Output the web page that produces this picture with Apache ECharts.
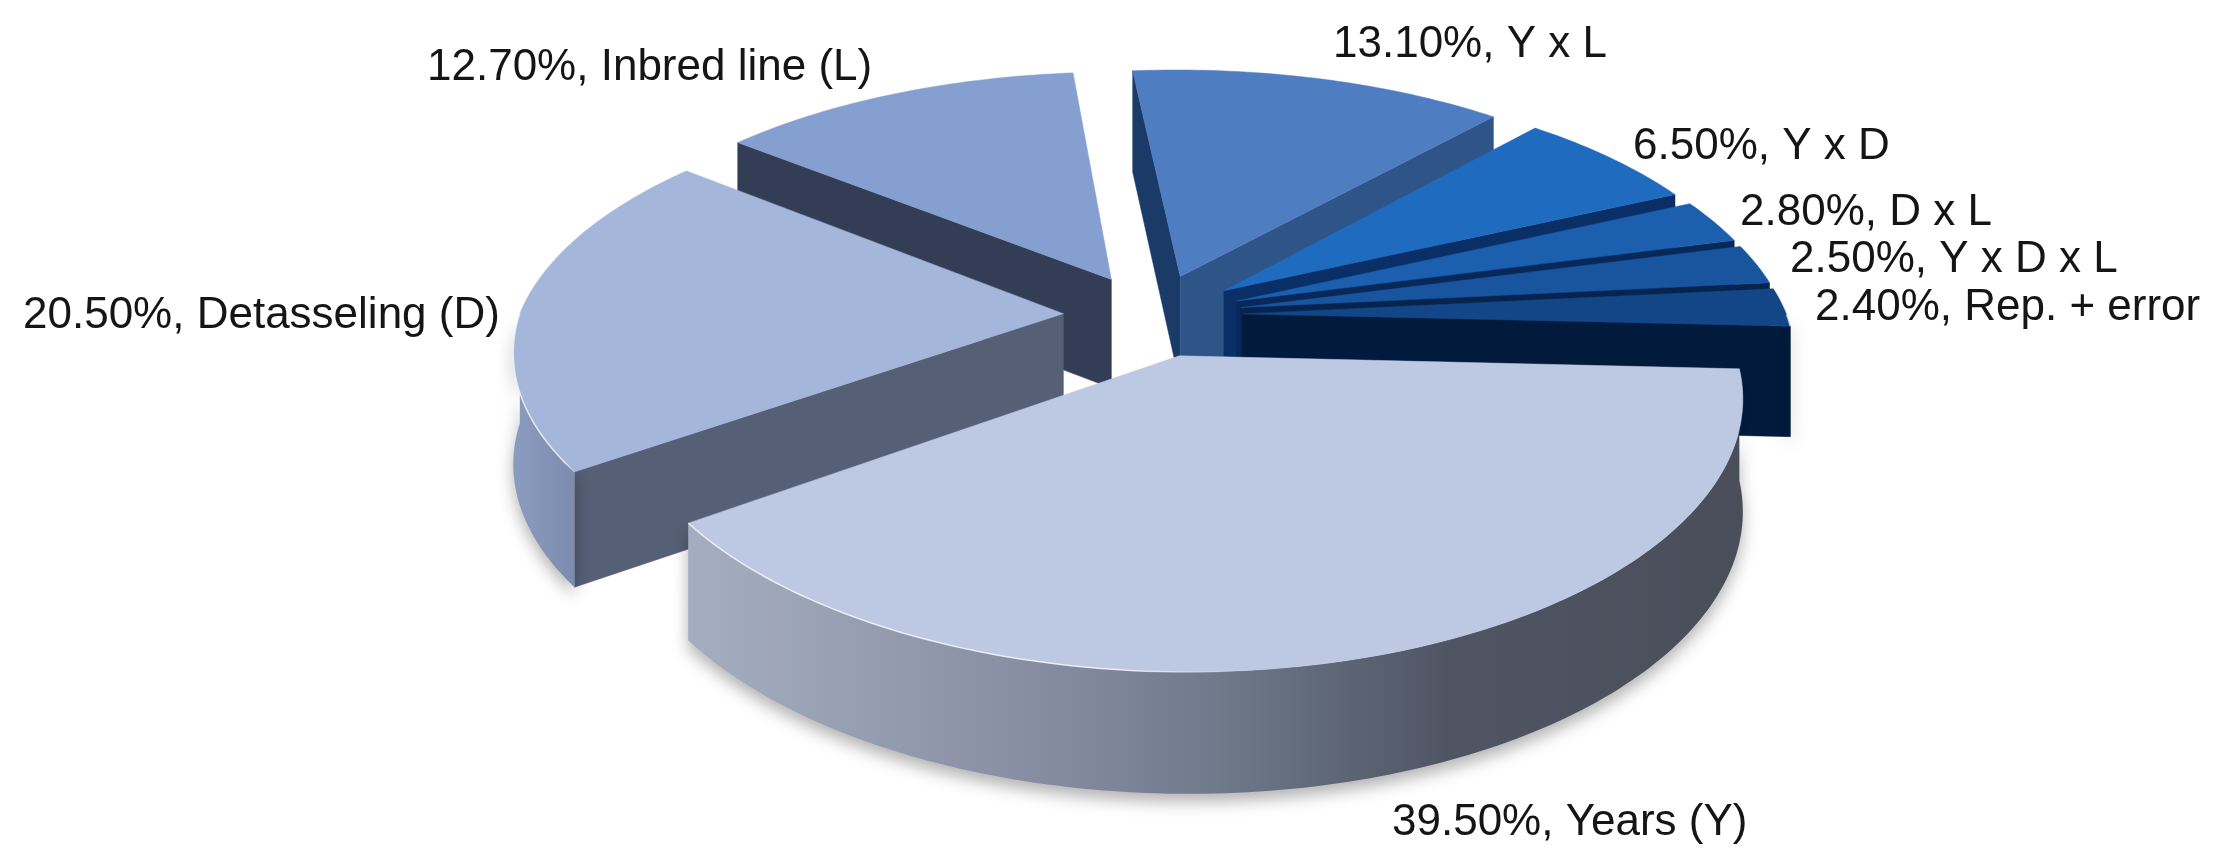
<!DOCTYPE html>
<html>
<head>
<meta charset="utf-8">
<title>Variance components</title>
<script src="https://cdn.jsdelivr.net/npm/echarts@6/dist/echarts.min.js"></script>
<style>
  html, body { margin: 0; padding: 0; background: #fff; }
  #main { width: 2215px; height: 859px; }
</style>
</head>
<body>
<div id="main"></div>
<script>
// chart data
const categories = ['Years (Y)', 'Detasseling (D)', 'Inbred line (L)', 'Y x L', 'Y x D', 'D x L', 'Y x D x L', 'Rep. + error'];
const shares = [39.5, 20.5, 12.7, 13.1, 6.5, 2.8, 2.5, 2.4];

// look of each slice
const topColors = ['#bdc9e2', '#a4b6da', '#859fd0', '#4e7dc2', '#1f6bbf', '#1b5fae', '#19549f', '#134687'];
const startWallColors = ['#000', '#555f75', '#333e56', '#1a3a68', '#0d3f80', '#0b3a75', '#0a356c', '#08305f'];
const endWallColors = ['#000', '#000', '#000', '#2f5487', '#0a2f66', '#08285a', '#07244f', '#021a3c'];
const outerStops = [
  [[0, '#a5aec0'], [0.35, '#858b9f'], [0.5, '#6f7a8b'], [0.72, '#4f5563'], [1, '#4a4e5b']],
  [[0, '#8c9cc0'], [1, '#7c8cae']],
  [[0, '#333e56'], [1, '#333e56']],
  [[0, '#2f5487'], [1, '#2f5487']],
  [[0, '#0d3f80'], [1, '#0d3f80']],
  [[0, '#0b3a75'], [1, '#0b3a75']],
  [[0, '#0a356c'], [1, '#0a356c']],
  [[0, '#021a3c'], [1, '#021a3c']]
];

// where the label text starts, same order as categories
const labelX = [1392, 23, 427, 1333, 1633, 1740, 1790, 1815];
const labelY = [823, 316, 68, 45, 147, 213, 260, 308];

// pie projection: tilted disc seen with a bit of perspective
const centerX = 1153, centerY = 315;
const radiusX = 544, radiusY = 251;
const perspective = 0.16;
const nearPerspectiveX = 0.14;
const nearShear = 0.01;
const explode = 0.165;
const depth = 110;
const startAngle = 2.8;

const total = shares.reduce((a, b) => a + b, 0);
const rad = d => d * Math.PI / 180;

function project(u, v, h) {
  const sy = 1 / (1 - perspective * v);
  const sx = 1 / (1 - (v < 0 ? perspective : nearPerspectiveX) * v);
  const shear = v > 0 ? nearShear * v : 0;
  return [centerX + radiusX * (u * sx + shear), centerY + radiusY * v * sy + h * Math.sqrt(sy)];
}

function renderSlice(params, api) {
  const i = params.dataIndex;
  let before = 0;
  for (let k = 0; k < i; k++) before += shares[k];
  const a1 = startAngle + before / total * 360;
  const a2 = a1 + api.value(0) / total * 360;
  const mid = rad((a1 + a2) / 2);
  const ox = explode * Math.cos(mid), oy = explode * Math.sin(mid);

  const rim = (deg, h) => project(ox + Math.cos(rad(deg)), oy + Math.sin(rad(deg)), h);
  const apex = h => project(ox, oy, h);
  const base = Math.round((Math.sin(mid) + 1) * 100) * 10;
  const children = [];

  const arc = [];
  for (let d = a1; d < a2; d += 1) arc.push(d);
  arc.push(a2);

  // cut walls, only those turned to the viewer
  const wall = (deg, color, z) => children.push({
    type: 'polygon',
    z2: base + z,
    shape: { points: [apex(0), rim(deg, 0), rim(deg, depth), apex(depth)] },
    style: { fill: color, stroke: color, lineWidth: 0.5 }
  });
  if (-Math.cos(rad(a1)) > 0) wall(a1, startWallColors[i], 1);
  if (Math.cos(rad(a2)) > 0) wall(a2, endWallColors[i], 2);

  // outer wall
  const front = arc.filter(d => Math.sin(rad(d)) >= -0.01);
  if (front.length > 1) {
    const pts = front.map(d => rim(d, 0)).concat(front.slice().reverse().map(d => rim(d, depth)));
    children.push({
      type: 'polygon',
      z2: base + 3,
      shape: { points: pts },
      style: {
        fill: {
          type: 'linear', x: 0, y: 0, x2: 1, y2: 0,
          colorStops: outerStops[i].map(s => ({ offset: s[0], color: s[1] }))
        },
        shadowColor: 'rgba(0,0,0,0.3)',
        shadowBlur: 16,
        shadowOffsetY: 8
      }
    });
  }

  // top face
  children.push({
    type: 'polygon',
    z2: base + 4,
    shape: { points: [apex(0)].concat(arc.map(d => rim(d, 0))) },
    style: { fill: topColors[i], stroke: topColors[i], lineWidth: 0.5 }
  });

  // pale bevel on the near left rim, fades out towards the front
  const lit = front.filter(d => d > 85);
  if (lit.length > 1) {
    children.push({
      type: 'polyline',
      z2: base + 5,
      shape: { points: lit.map(d => rim(d, 0)) },
      style: {
        fill: null,
        lineWidth: 1.5,
        stroke: {
          type: 'linear', x: 0, y: 0, x2: 1, y2: 0,
          colorStops: [
            { offset: 0, color: 'rgba(255,255,255,0.7)' },
            { offset: 0.8, color: 'rgba(255,255,255,0.7)' },
            { offset: 1, color: 'rgba(255,255,255,0)' }
          ]
        }
      }
    });
  }

  children.push({
    type: 'text',
    z2: 3000,
    style: {
      x: labelX[i],
      y: labelY[i],
      text: api.value(0).toFixed(2) + '%, ' + categories[i],
      fill: '#151515',
      font: '44px "Liberation Sans"',
      textAlign: 'left',
      textVerticalAlign: 'middle'
    }
  });

  return { type: 'group', children: children };
}

const chart = echarts.init(document.getElementById('main'));
chart.setOption({
  animation: false,
  backgroundColor: '#fff',
  series: [{
    type: 'custom',
    coordinateSystem: 'none',
    silent: true,
    renderItem: renderSlice,
    data: shares.map(v => [v])
  }]
});
</script>
</body>
</html>
